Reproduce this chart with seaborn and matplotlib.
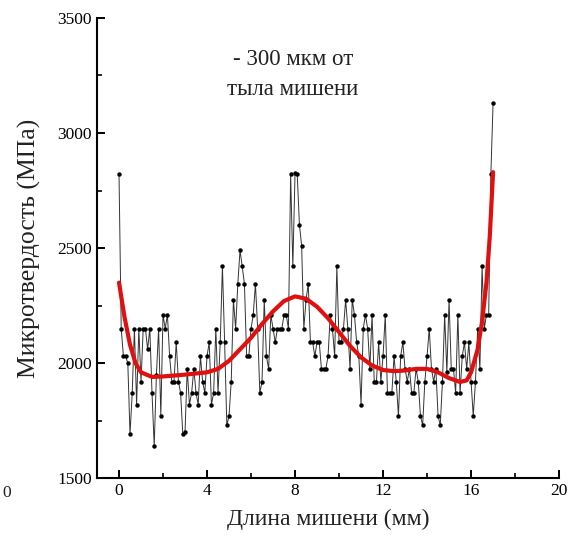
import matplotlib

matplotlib.use("Agg")

import matplotlib.pyplot as plt
import numpy as np
import pandas as pd
import seaborn as sns
from matplotlib.ticker import MultipleLocator

# measured microhardness along the target, equally spaced points from 0 to 17 mm
HARDNESS = [
    2820, 2150, 2030, 2030, 2000, 1690, 1870, 2150, 1820, 2150, 1920, 2150, 2150, 2060,
    2150, 1870, 1640, 1950, 2150, 1770, 2210, 2150, 2210, 2030, 1920, 1920, 2090, 1920,
    1870, 1690,
    1700, 1975, 1820, 1870, 1975, 1870, 1820, 2030, 1920, 1870, 2030, 2090, 1820, 1870,
    2150, 1870, 2090, 2420, 2090, 1730, 1770, 1920, 2275, 2150, 2345, 2490, 2420, 2345,
    2030, 2030, 2150, 2210, 2345, 2150, 1870, 1920, 2275, 2030, 1975, 2210, 2150, 2090,
    2150, 2150, 2150, 2210, 2210, 2150, 2820, 2420, 2825, 2820, 2600, 2510, 2150, 2275,
    2345, 2090, 2090, 2030, 2090, 2090, 1975, 1975, 1975, 2030, 2210, 2150, 2030, 2420,
    2090, 2090, 2150, 2275, 2150, 1975, 2275, 2210, 2090, 2030, 1820, 2150, 2210, 2150,
    1975, 2210, 1920, 1920, 2090, 1920, 2030, 2210, 1870, 1870, 1870, 2030, 1920, 1770,
    2030, 2090, 1975, 1920, 1975, 1870, 1870, 1975, 1920, 1770, 1730, 1920, 2030, 2150,
    1975, 1920, 1975, 1770, 1730, 1920, 2210, 1960, 2275, 1975, 1975, 1870, 2210, 1870,
    2030, 2090, 1975, 2090, 1920, 1770, 1920, 2150, 1975, 2420, 2150, 2210, 2210, 2820,
    3130,
]
X_START, X_END = 0.0, 17.0

# smoothed trend (red)
FIT_X = [0, 0.25, 0.5, 0.75, 1.0, 1.5, 2, 3, 4, 4.5, 5, 5.5, 6, 6.5, 7, 7.5, 8, 8.5,
         9, 9.5, 10, 10.5, 11, 11.5, 12, 12.5, 13, 13.5, 14, 14.5, 15, 15.5, 15.8,
         16, 16.3, 16.5, 16.7, 16.85, 17]
FIT_Y = [2350, 2200, 2080, 2000, 1960, 1940, 1942, 1950, 1960, 1975, 2010, 2060, 2110,
         2170, 2225, 2270, 2290, 2280, 2245, 2195, 2135, 2075, 2025, 1990, 1970, 1965,
         1968, 1975, 1975, 1960, 1935, 1918, 1925, 1960, 2060, 2180, 2350, 2550, 2830]

NOTE_LINES = ["- 300 мкм от", "тыла мишени"]


def main() -> None:
    sns.set_theme(style="ticks")
    plt.rcParams["font.family"] = ["Liberation Serif", "DejaVu Serif"]

    data = pd.DataFrame({
        "x": np.linspace(X_START, X_END, len(HARDNESS)),
        "y": HARDNESS,
    })
    fit = pd.DataFrame({"x": FIT_X, "y": FIT_Y})

    fig = plt.figure(figsize=(5.74, 5.44), dpi=100)
    ax = fig.add_axes([0.169, 0.121, 0.805, 0.846])

    sns.lineplot(data=data, x="x", y="y", ax=ax, color="#333333", linewidth=0.7,
                 marker="o", markersize=3.2, markeredgewidth=0, markerfacecolor="black",
                 estimator=None, sort=False)
    sns.lineplot(data=fit, x="x", y="y", ax=ax, color="#e01010", linewidth=3.0,
                 estimator=None, sort=False)

    ax.set_xlim(-1, 20)
    ax.set_ylim(1500, 3500)
    ax.xaxis.set_major_locator(MultipleLocator(4))
    ax.xaxis.set_minor_locator(MultipleLocator(2))
    ax.yaxis.set_major_locator(MultipleLocator(500))
    ax.yaxis.set_minor_locator(MultipleLocator(250))
    ax.tick_params(which="both", direction="in", colors="black", labelsize=12.5)
    ax.tick_params(which="major", length=6, width=1.4)
    ax.tick_params(which="minor", length=3.5, width=1.2)
    for side in ["left", "bottom"]:
        ax.spines[side].set_linewidth(1.5)
        ax.spines[side].set_color("black")
    sns.despine(ax=ax)

    ax.set_xlabel("Длина мишени (мм)", fontsize=17, color="#222222", labelpad=7)
    ax.set_ylabel("Микротвердость (МПа)", fontsize=18.5, color="#222222", labelpad=12)

    ax.text(7.9, 3318, NOTE_LINES[0], ha="center", va="center", fontsize=16.5,
            color="#222222")
    ax.text(7.9, 3190, NOTE_LINES[1], ha="center", va="center", fontsize=16.5,
            color="#222222")

    # neighbouring panel's tick label at the left edge
    fig.text(0.011, 1 - 493 / 544, "0", ha="center", va="center", fontsize=12.5,
             color="#222222")

    fig.savefig("out.png", dpi=100)
    plt.close(fig)


if __name__ == "__main__":
    main()
